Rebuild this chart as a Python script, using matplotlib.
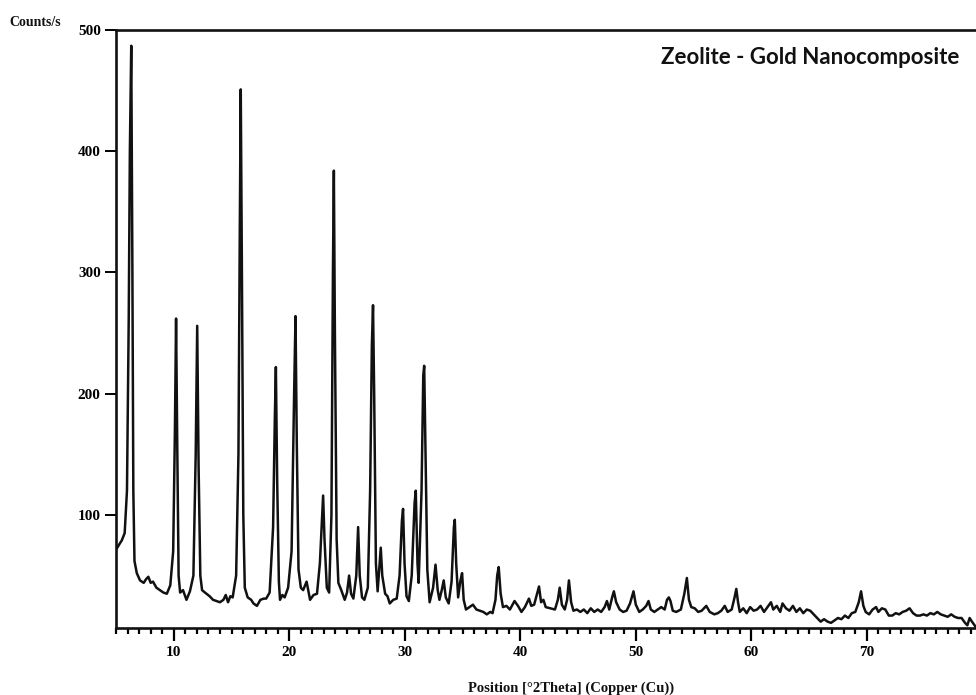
import matplotlib
matplotlib.use("Agg")
import matplotlib.pyplot as plt
from matplotlib.ticker import MultipleLocator

# XRD pattern: (2theta, counts)
two_theta = [
    5.05, 5.3, 5.5, 5.75, 5.95, 6.1, 6.2, 6.32, 6.42, 6.5, 6.6, 6.8, 7.08, 7.4, 7.6, 7.8, 8.0, 8.2,
    8.5, 8.8, 9.1, 9.4, 9.7, 9.95, 10.1, 10.2, 10.3, 10.42, 10.55, 10.8, 11.1, 11.4, 11.7, 11.9,
    12.03, 12.15, 12.3, 12.45, 12.7, 13.1, 13.4, 13.7, 14.0, 14.3, 14.5, 14.7, 14.9, 15.1, 15.4,
    15.6, 15.72, 15.8, 15.9, 16.02, 16.15, 16.4, 16.7, 16.9, 17.2, 17.5, 17.8, 18.0, 18.3, 18.6,
    18.75, 18.84, 18.95, 19.1, 19.2, 19.4, 19.6, 19.9, 20.2, 20.42, 20.54, 20.65, 20.8, 21.0,
    21.2, 21.5, 21.8, 22.1, 22.4, 22.65, 22.85, 22.93, 23.05, 23.25, 23.45, 23.65, 23.78, 23.86,
    23.95, 24.1, 24.25, 24.5, 24.8, 25.0, 25.18, 25.35, 25.55, 25.8, 25.96, 26.1, 26.3, 26.5,
    26.8, 27.0, 27.15, 27.25, 27.35, 27.5, 27.65, 27.82, 27.92, 28.05, 28.3, 28.5, 28.7, 29.0,
    29.3, 29.55, 29.75, 29.85, 29.98, 30.15, 30.35, 30.6, 30.85, 30.95, 31.1, 31.2, 31.45, 31.6,
    31.68, 31.8, 31.95, 32.15, 32.45, 32.66, 32.85, 33.0, 33.2, 33.37, 33.55, 33.8, 34.05, 34.25,
    34.33, 34.45, 34.62, 34.8, 34.96, 35.1, 35.3, 35.6, 35.9, 36.2, 36.5, 36.8, 37.1, 37.4, 37.6,
    37.85, 38.0, 38.13, 38.3, 38.5, 38.8, 39.1, 39.5, 39.8, 40.1, 40.4, 40.75, 40.95, 41.2, 41.45,
    41.62, 41.8, 42.0, 42.2, 42.6, 43.0, 43.25, 43.41, 43.6, 43.85, 44.05, 44.21, 44.4, 44.6,
    44.9, 45.2, 45.5, 45.8, 46.1, 46.4, 46.7, 47.0, 47.3, 47.5, 47.7, 47.95, 48.1, 48.3, 48.6,
    48.9, 49.2, 49.5, 49.8, 50.0, 50.3, 50.6, 50.9, 51.1, 51.3, 51.6, 51.9, 52.2, 52.5, 52.7,
    52.86, 53.0, 53.2, 53.5, 53.9, 54.2, 54.42, 54.6, 54.8, 55.1, 55.4, 55.7, 56.1, 56.4, 56.8,
    57.1, 57.4, 57.7, 57.95, 58.3, 58.55, 58.7, 58.85, 59.0, 59.3, 59.6, 59.9, 60.2, 60.5, 60.8,
    61.1, 61.4, 61.7, 61.9, 62.2, 62.5, 62.7, 63.0, 63.3, 63.6, 63.9, 64.2, 64.5, 64.8, 65.1,
    65.4, 65.7, 66.0, 66.3, 66.6, 66.9, 67.2, 67.5, 67.8, 68.1, 68.4, 68.7, 69.0, 69.3, 69.5,
    69.7, 69.9, 70.2, 70.5, 70.8, 71.0, 71.3, 71.6, 71.9, 72.2, 72.5, 72.8, 73.1, 73.4, 73.7,
    74.0, 74.3, 74.6, 74.9, 75.2, 75.5, 75.8, 76.1, 76.4, 76.7, 77.0, 77.3, 77.6, 77.9, 78.2,
    78.5, 78.7, 78.9, 79.1, 79.4,
]
counts = [
    72, 76, 79, 85, 120, 260, 400, 487, 300, 120, 62, 52, 46, 44, 47, 49, 44, 45,
    40, 38, 36, 35, 42, 70, 170, 262, 160, 50, 36, 38, 30, 37, 50, 150,
    256, 140, 50, 38, 36, 33, 30, 29, 28, 30, 34, 28, 33, 32, 50,
    150, 340, 451, 300, 100, 40, 32, 30, 27, 25, 30, 31, 31, 36, 90,
    180, 222, 130, 45, 30, 34, 32, 40, 70, 200, 264, 160, 55, 40,
    38, 45, 30, 34, 35, 60, 100, 116, 80, 40, 36, 100, 300, 384,
    250, 80, 44, 38, 30, 36, 50, 35, 31, 50, 90, 50, 32, 30,
    40, 120, 240, 273, 200, 60, 37, 60, 73, 50, 35, 33, 27, 30,
    31, 50, 95, 105, 60, 33, 29, 50, 110, 120, 60, 44, 120, 215,
    223, 150, 55, 28, 40, 59, 38, 30, 38, 46, 32, 27, 45, 90,
    96, 60, 32, 45, 52, 30, 22, 24, 26, 22, 21, 20, 18, 20, 19,
    30, 50, 57, 35, 24, 25, 22, 29, 25, 20, 24, 31, 25, 26, 35,
    41, 28, 30, 24, 23, 22, 30, 40, 26, 22, 30, 46, 28, 21,
    22, 20, 22, 19, 23, 20, 22, 20, 24, 29, 22, 32, 37, 28, 22,
    20, 21, 27, 37, 26, 20, 22, 25, 29, 22, 20, 22, 24, 22, 30,
    32, 29, 21, 20, 22, 35, 48, 30, 24, 23, 20, 21, 25, 20, 18,
    19, 21, 25, 20, 22, 32, 39, 28, 20, 23, 19, 24, 21, 22, 25,
    20, 24, 28, 22, 25, 20, 27, 23, 21, 25, 20, 23, 19, 22, 21,
    18, 15, 12, 14, 12, 11, 13, 15, 14, 17, 15, 19, 20, 28, 37,
    25, 20, 18, 22, 24, 20, 23, 22, 17, 17, 19, 18, 20, 21, 23,
    19, 17, 17, 18, 17, 19, 18, 20, 18, 17, 16, 18, 16, 15, 15,
    11, 9, 15, 12, 8,
]

x_ticks = [10, 20, 30, 40, 50, 60, 70]
y_ticks = [100, 200, 300, 400, 500]

title_text = "Zeolite - Gold Nanocomposite"
x_label = "Position [°2Theta] (Copper (Cu))"
y_label = "Counts/s"

fig = plt.figure(figsize=(9.76, 6.95), dpi=100)
ax = fig.add_axes([116 / 976, 1 - 627.7 / 695, 1 - 116 / 976, (627.7 - 30) / 695])

ax.plot(two_theta, counts, color="#111111", linewidth=1.8)

ax.set_xlim(5, 79.45)
ax.set_ylim(7, 500)

for side in ["left", "bottom", "top"]:
    ax.spines[side].set_linewidth(1.9)
    ax.spines[side].set_color("#111111")
ax.spines["right"].set_visible(False)

serif = "Liberation Serif"
ax.set_xticks(x_ticks)
ax.set_yticks(y_ticks)
ax.xaxis.set_minor_locator(MultipleLocator(1))
ax.tick_params(axis="x", which="major", direction="out", length=9, width=1.6,
               labelsize=11, pad=4, top=False)
ax.tick_params(axis="x", which="minor", direction="out", length=4.5, width=1.6, top=False)
ax.tick_params(axis="y", which="major", direction="out", length=8, width=1.4,
               labelsize=11, pad=3, right=False)
for lab in ax.get_xticklabels() + ax.get_yticklabels():
    lab.set_fontfamily(serif)
    lab.set_fontweight("bold")

ax.text(0.981, 0.972, title_text, transform=ax.transAxes, ha="right", va="top",
        fontsize=16, fontweight="bold", family="Lato", color="#111111")

fig.text(9 / 976, 1 - 22 / 695, y_label, ha="left", va="center",
         fontsize=10, fontweight="bold", family=serif, color="#111111")
fig.text(571 / 976, 1 - 688 / 695, x_label, ha="center", va="center",
         fontsize=10.5, fontweight="bold", family=serif, color="#111111")

fig.savefig("out.png", dpi=100)
